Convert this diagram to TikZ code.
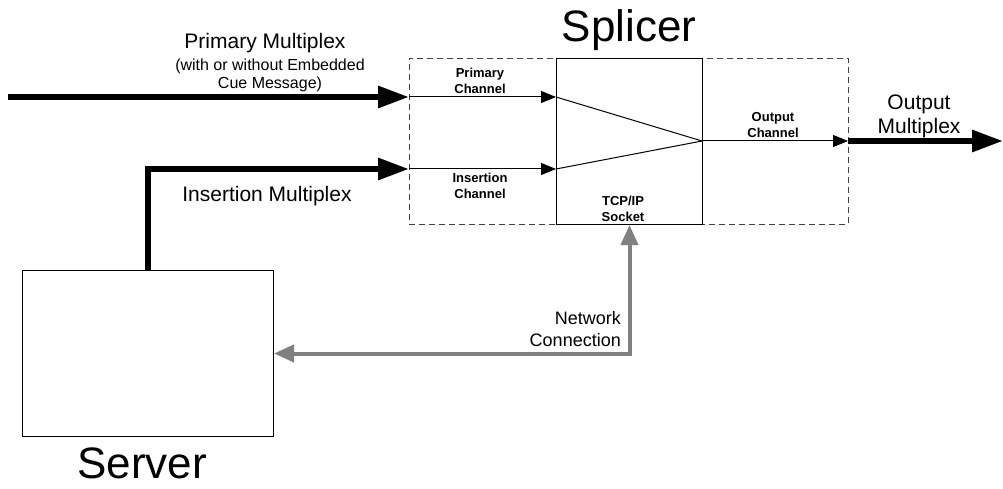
\documentclass[tikz,border=0pt]{standalone}
\usepackage{fontspec}
\setmainfont{Liberation Sans}
\usetikzlibrary{arrows.meta}
\begin{document}
\begin{tikzpicture}[x=1pt,y=-1pt,
  box/.style={draw=black, line width=1pt, inner sep=0pt, anchor=north west},
  framebox/.style={draw=black!75, line width=0.9pt, dash pattern=on 6pt off 4pt, inner sep=0pt, anchor=north west},
  bigarrow/.style={line width=6pt, -{Triangle[length=31pt,width=21pt]}},
  chanarrow/.style={line width=1pt, -{Triangle[length=15pt,width=12pt]}},
  chanline/.style={line width=1pt},
  netarrow/.style={draw=black!50, line width=4pt, {Triangle[length=20pt,width=17pt]}-{Triangle[length=20pt,width=17pt]}},
  title/.style={font=\fontsize{44}{48}\selectfont, inner sep=0pt},
  lbl/.style={font=\fontsize{21}{24}\selectfont, inner sep=0pt, align=center},
  sublbl/.style={font=\fontsize{16}{18}\selectfont, inner sep=0pt, align=center},
  netlbl/.style={font=\fontsize{18}{22}\selectfont, inner sep=0pt, align=right},
  chanlbl/.style={font=\fontsize{13}{15.5}\selectfont\bfseries, inner sep=0pt, align=center}]
\useasboundingbox (0,0) rectangle (1003,489);

% splicer frame and core
\node[framebox, minimum width=439pt, minimum height=166pt] (frame) at (409,58) {};
\node[box, minimum width=146pt, minimum height=166pt] (core) at (556,58) {};
% server
\node[box, minimum width=251pt, minimum height=166pt] (server) at (22,270) {};

% coordinates
\coordinate (pstart) at (8,97);
\coordinate (pin) at (409,97);
\coordinate (iin) at (409,169);
\coordinate (cin1) at (556,97);
\coordinate (cin2) at (556,169);
\coordinate (merge) at (702,141);
\coordinate (oout) at (848,141);
\coordinate (oend) at (1003,141);
\coordinate (sv) at (148,270);

% thick multiplex arrows
\draw[bigarrow] (pstart) -- (pin);
\draw[bigarrow] (sv) |- (iin);
\draw[bigarrow] (oout) -- (oend);

% channels
\draw[chanarrow] (pin) -- (cin1);
\draw[chanarrow] (iin) -- (cin2);
\draw[chanline] (cin1) -- (merge);
\draw[chanline] (cin2) -- (merge);
\draw[chanarrow] (merge) -- (oout);

% network connection
\draw[netarrow] (server.east) -| (core.south);

% labels
\node[title] (splicerlbl) at (629,30) {Splicer};
\node[title] (serverlbl) at (142,463) {Server};
\node[lbl] (pmlbl) at (265,43) {Primary Multiplex};
\node[sublbl] (cuelbl) at (270,75) {(with or without Embedded\\Cue Message)};
\node[lbl] (imlbl) at (267,196) {Insertion Multiplex};
\node[lbl] (omlbl) at (919,116) {Output\\Multiplex};
\node[chanlbl] (pclbl) at (480,81) {Primary\\Channel};
\node[chanlbl] (iclbl) at (480,186) {Insertion\\Channel};
\node[chanlbl] (tcplbl) at (623,209) {TCP/IP\\Socket};
\node[chanlbl] (oclbl) at (773,125) {Output\\Channel};
\node[netlbl, anchor=east] (netlbl) at (621,329) {Network\\Connection};
\end{tikzpicture}
\end{document}
